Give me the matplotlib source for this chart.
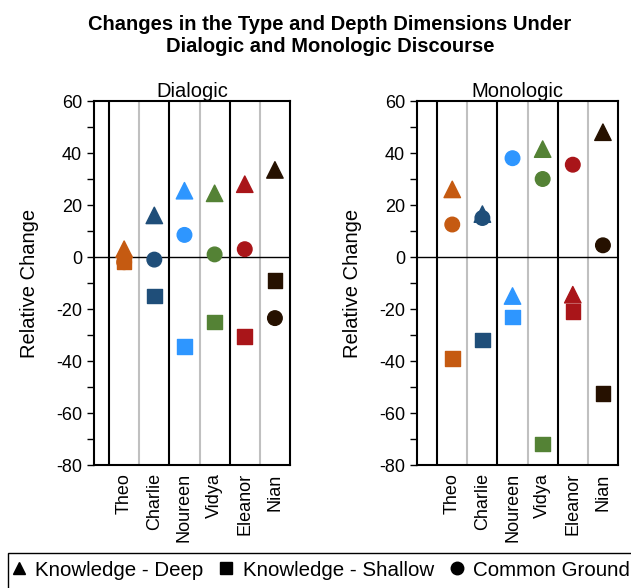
import matplotlib.pyplot as plt
from matplotlib.lines import Line2D
from matplotlib.patches import Rectangle

plt.rcParams['font.family'] = ['Liberation Sans', 'DejaVu Sans']
plt.rcParams['axes.unicode_minus'] = False

students = ['Theo', 'Charlie', 'Noureen', 'Vidya', 'Eleanor', 'Nian']
colors = ['#C55A11', '#1F4E79', '#2E96FF', '#548235', '#A91519', '#261100']

# dialogic discourse
dia_deep = [3, 16, 25.5, 24.5, 28, 33.5]
dia_shallow = [-2, -15, -34.5, -25, -30.5, -9]
dia_common = [-2, -1, 8.5, 1, 3, -23.5]

# monologic discourse
mono_deep = [26, 16.5, -15, 41.5, -14.5, 48]
mono_shallow = [-39, -32, -23, -72, -21, -52.5]
mono_common = [12.5, 15, 38, 30, 35.5, 4.5]

fig = plt.figure(figsize=(6.31, 5.88), dpi=100)

fig.text(0.523, 1 - 35 / 588, 'Changes in the Type and Depth Dimensions Under\nDialogic and Monologic Discourse',
         ha='center', va='center', fontsize=14.5, fontweight='bold', linespacing=1.2)

def panel(rect, title, deep, shallow, common, xleft):
    ax = fig.add_axes(rect)
    x = list(range(len(students)))
    ax.set_xlim(xleft, 5.5)
    ax.set_ylim(-80, 60)
    for xi in [0.5, 2.5, 4.5]:
        ax.axvline(xi, color='#C0C0C0', lw=1.5, zorder=1)
    for xi in [-0.5, 1.5, 3.5]:
        ax.axvline(xi, color='black', lw=1.5, zorder=1)
    ax.axhline(0, color='black', lw=1, zorder=1)
    ax.scatter(x, common, marker='o', s=110, c=colors, zorder=3)
    ax.scatter(x, shallow, marker='s', s=110, c=colors, zorder=4)
    ax.scatter(x, deep, marker='^', s=140, c=colors, zorder=5)
    ax.set_xticks(x)
    ax.set_xticklabels(students, rotation=90, fontsize=13)
    ax.tick_params(axis='x', length=0, pad=6)
    ax.set_yticks(range(-80, 61, 20))
    ax.set_yticks(range(-70, 60, 20), minor=True)
    ax.tick_params(axis='y', which='both', direction='out', length=5, width=1, labelsize=13)
    ax.set_ylabel('Relative Change', fontsize=14.5, labelpad=12)
    ax.set_title(title, fontsize=14.5, pad=2)
    for sp in ax.spines.values():
        sp.set_linewidth(1.5)
    return ax

panel([94 / 631, 1 - 465 / 588, 196 / 631, 364 / 588], 'Dialogic',
      dia_deep, dia_shallow, dia_common, -1.0)
panel([417 / 631, 1 - 465 / 588, 201 / 631, 364 / 588], 'Monologic',
      mono_deep, mono_shallow, mono_common, -1.17)

fig.add_artist(Rectangle((8 / 631, -0.01), 1.0, 41 / 588, transform=fig.transFigure,
                         fill=False, edgecolor='black', lw=1))
handles = [Line2D([], [], marker='^', color='black', ls='', markersize=9),
           Line2D([], [], marker='s', color='black', ls='', markersize=9),
           Line2D([], [], marker='o', color='black', ls='', markersize=9)]
fig.legend(handles, ['Knowledge - Deep', 'Knowledge - Shallow', 'Common Ground'],
           loc='center', bbox_to_anchor=(0.506, 1 - 570 / 588), ncol=3, frameon=False,
           fontsize=14.8, handletextpad=0.3, columnspacing=0.6, handlelength=1)

fig.savefig('out.png', dpi=100)
